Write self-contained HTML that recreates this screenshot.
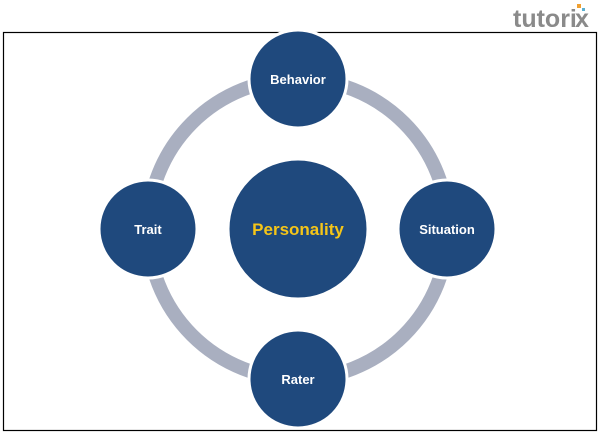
<!DOCTYPE html>
<html><head><style>
body{margin:0;background:#fff;width:600px;height:433px;overflow:hidden}
</style></head><body>
<svg width="600" height="433" viewBox="0 0 600 433" xmlns="http://www.w3.org/2000/svg" font-family="Liberation Sans, sans-serif">
<text x="513" y="27" font-size="25" font-weight="bold" fill="#8a8a8a">tutori</text>
<text x="575" y="27" font-size="25" font-weight="bold" fill="#8a8a8a">x</text>
<rect x="577" y="4" width="4" height="4" fill="#f0a030"/>
<rect x="582" y="8" width="3" height="3" fill="#5bb0d0"/>
<rect x="3.5" y="32.5" width="593" height="398" fill="none" stroke="#000" stroke-width="1.2"/>
<circle cx="298" cy="229" r="150" fill="none" stroke="#a9afc0" stroke-width="14"/>
<g fill="#1f497d" stroke="#fff" stroke-width="3">
<circle cx="298" cy="229" r="70"/>
<circle cx="298" cy="79" r="49"/>
<circle cx="148" cy="229" r="49"/>
<circle cx="447" cy="229" r="49"/>
<circle cx="298" cy="379" r="49"/>
</g>
<g fill="#fff" font-size="13" font-weight="bold" text-anchor="middle">
<text x="298" y="84">Behavior</text>
<text x="148" y="234">Trait</text>
<text x="447" y="234">Situation</text>
<text x="298" y="384">Rater</text>
</g>
<text x="298" y="235" font-size="17" font-weight="bold" fill="#f5c518" text-anchor="middle">Personality</text>
</svg>
</body></html>
